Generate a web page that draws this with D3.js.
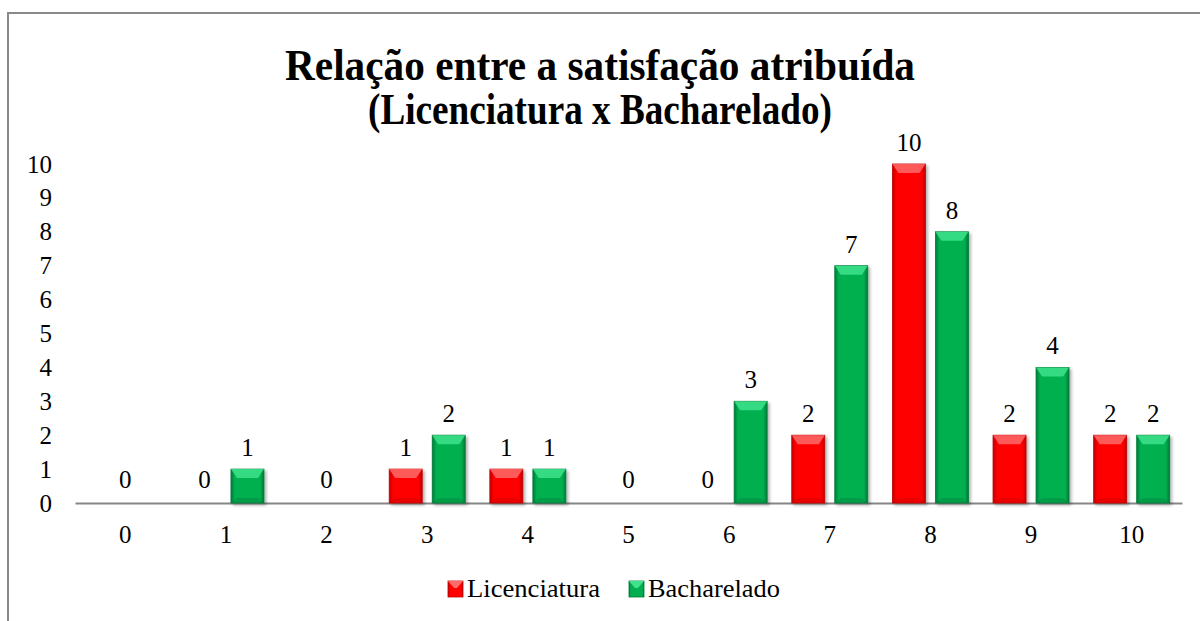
<!DOCTYPE html>
<html>
<head>
<meta charset="utf-8">
<script src="https://cdn.jsdelivr.net/npm/d3@7"></script>
<style>
  body { margin: 0; background: #fff; }
  text { font-family: "Liberation Serif", "Times New Roman", serif; fill: #000; }
</style>
</head>
<body>
<script>
// notas de satisfacao (0 a 10)
var categories = ["0", "1", "2", "3", "4", "5", "6", "7", "8", "9", "10"];
var licenciatura = [0, 0, 0, 1, 1, 0, 0, 2, 10, 2, 2];
var bacharelado = [0, 1, 0, 2, 1, 0, 3, 7, 8, 4, 2];
var seriesNames = ["Licenciatura", "Bacharelado"];
var yTicks = [0, 1, 2, 3, 4, 5, 6, 7, 8, 9, 10];
var titleLines = ["Relação entre a satisfação atribuída", "(Licenciatura x Bacharelado)"];

var W = 1200, H = 621;
var COLORS = { Licenciatura: ["#ff0000", "#c00000", "#ff6a6a"],
               Bacharelado: ["#00b050", "#007a38", "#40e38c"] };

var svg = d3.select("body").append("svg")
    .attr("width", W)
    .attr("height", H);

var defs = svg.append("defs");
seriesNames.forEach(function(s) {
    var g = defs.append("linearGradient").attr("id", "grad-" + s)
        .attr("x1", 0).attr("x2", 1).attr("y1", 0).attr("y2", 0);
    g.append("stop").attr("offset", "0%").attr("stop-color", COLORS[s][1]);
    g.append("stop").attr("offset", "12%").attr("stop-color", COLORS[s][0]);
    g.append("stop").attr("offset", "88%").attr("stop-color", COLORS[s][0]);
    g.append("stop").attr("offset", "100%").attr("stop-color", COLORS[s][1]);
});
var shadow = defs.append("filter").attr("id", "shadow")
    .attr("x", "-20%").attr("y", "-20%").attr("width", "150%").attr("height", "150%");
shadow.append("feDropShadow").attr("dx", 2).attr("dy", 2).attr("stdDeviation", 1.5)
    .attr("flood-color", "#000").attr("flood-opacity", 0.3);

// moldura do grafico
svg.append("rect")
    .attr("x", 8).attr("y", 13)
    .attr("width", 1400).attr("height", 800)
    .style("fill", "none")
    .style("stroke", "#898989")
    .style("stroke-width", 2);

// titulo
var title = svg.append("g");
title.selectAll("text")
    .data(titleLines)
    .enter().append("text")
    .attr("x", 600)
    .attr("y", function(d, i) { return 80 + i * 44; })
    .attr("text-anchor", "middle")
    .attr("textLength", function(d, i) { return i === 0 ? 630 : 464; })
    .attr("lengthAdjust", "spacingAndGlyphs")
    .style("font-size", "45px")
    .style("font-weight", "bold")
    .text(function(d) { return d; });

var x = d3.scaleBand()
    .domain(categories)
    .range([75, 1182]);

var xInner = d3.scaleBand()
    .domain(seriesNames)
    .range([0, x.bandwidth()])
    .paddingInner(0.2326)
    .paddingOuter(0.286);

var y = d3.scaleLinear()
    .domain([0, 10])
    .range([503, 164]);

// eixo y (apenas rotulos)
var yAxis = svg.append("g")
    .attr("transform", "translate(54,0)")
    .call(d3.axisLeft(y).tickValues(yTicks).tickSize(0).tickPadding(2));
yAxis.select(".domain").remove();
yAxis.selectAll("text")
    .style("font-family", "Liberation Serif, serif")
    .style("font-size", "25px")
    .attr("fill", "#000");

// eixo x
var xAxis = svg.append("g")
    .attr("transform", "translate(0,503)")
    .call(d3.axisBottom(x).tickSize(0).tickPadding(22));
xAxis.select(".domain")
    .style("stroke", "#868686")
    .style("stroke-width", 2);
xAxis.selectAll("text")
    .style("font-family", "Liberation Serif, serif")
    .style("font-size", "25px")
    .attr("fill", "#000");

// dados em formato longo
var rows = [];
categories.forEach(function(c, i) {
    rows.push({ cat: c, series: "Licenciatura", value: licenciatura[i], other: bacharelado[i] });
    rows.push({ cat: c, series: "Bacharelado", value: bacharelado[i], other: licenciatura[i] });
});

var bars = svg.append("g").selectAll(".bar")
    .data(rows.filter(function(d) { return d.value > 0; }))
    .enter().append("g")
    .attr("class", "bar")
    .attr("filter", "url(#shadow)");

bars.append("rect")
    .attr("x", function(d) { return x(d.cat) + xInner(d.series); })
    .attr("y", function(d) { return y(d.value); })
    .attr("width", xInner.bandwidth())
    .attr("height", function(d) { return y(0) - y(d.value); })
    .style("fill", function(d) { return "url(#grad-" + d.series + ")"; })
    .style("stroke", function(d) { return COLORS[d.series][1]; })
    .style("stroke-width", 0.8);

// chanfro superior
bars.append("path")
    .attr("d", function(d) {
        var x0 = x(d.cat) + xInner(d.series), w = xInner.bandwidth(), y0 = y(d.value);
        var b = Math.min(9, (y(0) - y0) / 3);
        return "M" + x0 + "," + y0 + "H" + (x0 + w) + "L" + (x0 + w - 6) + "," + (y0 + b) +
               "H" + (x0 + 6) + "Z";
    })
    .style("fill", function(d) { return COLORS[d.series][2]; })
    .style("opacity", 0.85);

// chanfro inferior
bars.append("path")
    .attr("d", function(d) {
        var x0 = x(d.cat) + xInner(d.series), w = xInner.bandwidth(), y1 = y(0);
        return "M" + x0 + "," + y1 + "H" + (x0 + w) + "L" + (x0 + w - 6) + "," + (y1 - 5) +
               "H" + (x0 + 6) + "Z";
    })
    .style("fill", function(d) { return COLORS[d.series][1]; })
    .style("opacity", 0.35);

// rotulos de dados (quando as duas series sao zero, um unico rotulo no centro)
var labels = rows.filter(function(d) {
    return !(d.value === 0 && d.other === 0 && d.series === "Bacharelado");
});
svg.append("g").selectAll(".lbl")
    .data(labels)
    .enter().append("text")
    .attr("class", "lbl")
    .attr("x", function(d) {
        if (d.value === 0 && d.other === 0) return x(d.cat) + x.bandwidth() / 2;
        return x(d.cat) + xInner(d.series) + xInner.bandwidth() / 2;
    })
    .attr("y", function(d) { return y(d.value) - (d.value === 0 ? 15 : 13); })
    .attr("text-anchor", "middle")
    .style("font-size", "25px")
    .text(function(d) { return d.value; });

// legenda
var legend = svg.append("g").attr("transform", "translate(448,581)");
var li = legend.selectAll("g")
    .data(seriesNames)
    .enter().append("g")
    .attr("transform", function(d, i) { return "translate(" + (i * 181) + ",0)"; });
li.append("rect")
    .attr("width", 15).attr("height", 16)
    .style("fill", function(d) { return "url(#grad-" + d + ")"; })
    .style("stroke", function(d) { return COLORS[d][1]; })
    .style("stroke-width", 0.8);
li.append("path")
    .attr("d", "M0,0H15L9,7H6Z")
    .style("fill", function(d) { return COLORS[d][2]; });
li.append("text")
    .attr("x", 19).attr("y", 16)
    .attr("textLength", function(d, i) { return i === 0 ? 133 : 132; })
    .attr("lengthAdjust", "spacingAndGlyphs")
    .style("font-size", "26px")
    .text(function(d) { return d; });
</script>
</body>
</html>
